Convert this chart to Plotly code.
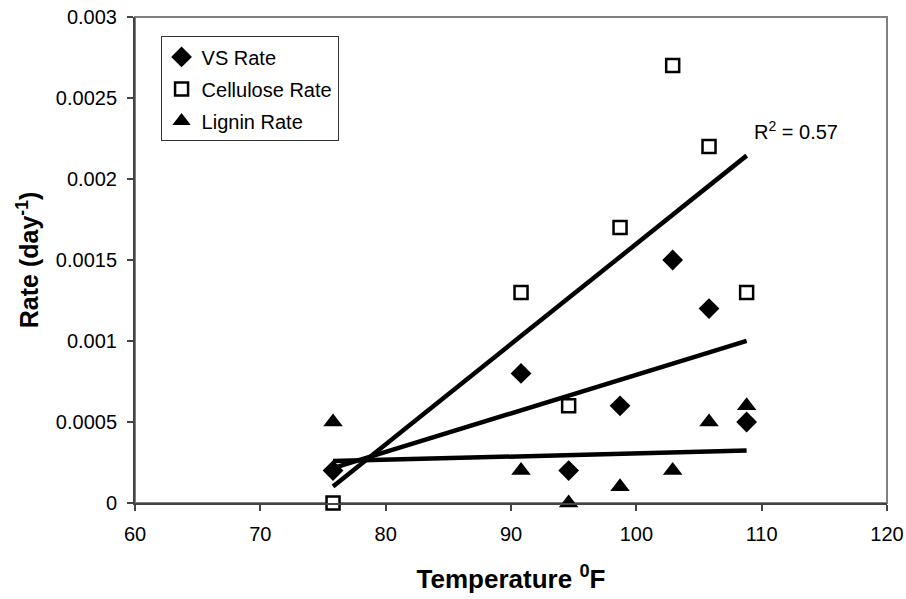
import numpy as np
import plotly.graph_objects as go

# Digester temperature (deg F) and first-order decay rates (1/day)
temperature = [75.8, 90.8, 94.6, 98.7, 102.9, 105.8, 108.8]
vs_rate = [0.0002, 0.0008, 0.0002, 0.0006, 0.0015, 0.0012, 0.0005]
cellulose_rate = [0.0, 0.0013, 0.0006, 0.0017, 0.0027, 0.0022, 0.0013]
lignin_rate = [0.0005, 0.0002, 0.0, 0.0001, 0.0002, 0.0005, 0.0006]

x_ticks = [60, 70, 80, 90, 100, 110, 120]
y_ticks = [0, 0.0005, 0.001, 0.0015, 0.002, 0.0025, 0.003]
y_tick_text = ["0", "0.0005", "0.001", "0.0015", "0.002", "0.0025", "0.003"]

FONT = "Liberation Sans, Arial, sans-serif"

fig = go.Figure()

series = [
    ("VS Rate", vs_rate, dict(symbol="diamond", size=16, color="black")),
    ("Cellulose Rate", cellulose_rate,
     dict(symbol="square", size=13, color="white", line=dict(color="black", width=2.5))),
    ("Lignin Rate", lignin_rate, dict(symbol="triangle-up", size=17, color="black")),
]

x = np.array(temperature)
xs = np.array([x.min(), x.max()])
fits = {}
for name, vals, _ in series:
    y = np.array(vals)
    slope, intercept = np.polyfit(x, y, 1)
    pred = slope * x + intercept
    r2 = 1 - np.sum((y - pred) ** 2) / np.sum((y - y.mean()) ** 2)
    fits[name] = (slope, intercept, r2)
    fig.add_trace(go.Scatter(
        x=xs, y=slope * xs + intercept, mode="lines",
        line=dict(color="black", width=4.5), showlegend=False, hoverinfo="skip",
    ))

for name, vals, marker in series:
    fig.add_trace(go.Scatter(
        x=temperature, y=vals, mode="markers", name=name, marker=marker,
        legendgroup=name, cliponaxis=False,
    ))

slope_c, int_c, r2_c = fits["Cellulose Rate"]
fig.add_annotation(
    x=109.2, y=0.0023, xref="x", yref="y",
    text=f"R<sup>2</sup> = {r2_c:.2f}", showarrow=False,
    xanchor="left", yanchor="middle",
    font=dict(family=FONT, size=20, color="black"),
)

# Outer plot frame (top/right edges lighter than the axis lines)
fig.add_shape(type="rect", xref="paper", yref="paper", x0=0, y0=0, x1=1, y1=1,
              line=dict(color="#808080", width=2), layer="below")

fig.update_layout(
    width=906, height=599,
    margin=dict(l=135, r=19, t=17, b=96),
    paper_bgcolor="white", plot_bgcolor="white",
    font=dict(family=FONT, color="black"),
    showlegend=True,
    legend=dict(
        x=0.034, y=0.96, xanchor="left", yanchor="top",
        bordercolor="#333333", borderwidth=1, bgcolor="white",
        font=dict(family=FONT, size=20, color="black"),
        itemwidth=30, tracegroupgap=3,
    ),
    xaxis=dict(
        range=[60, 120], tickvals=x_ticks, showgrid=False, zeroline=False,
        showline=True, linecolor="#444444", linewidth=2, automargin=False,
        ticks="outside", ticklen=6, tickwidth=1.5, tickcolor="#444444",
        ticklabelstandoff=6,
        tickfont=dict(family=FONT, size=20, color="black"),
        title=dict(text="<b>Temperature <sup>0</sup>F</b>", standoff=26,
                   font=dict(family=FONT, size=26, color="black")),
    ),
    yaxis=dict(
        range=[0, 0.003], tickvals=y_ticks, ticktext=y_tick_text,
        showgrid=False, zeroline=False, automargin=False,
        showline=True, linecolor="#444444", linewidth=2,
        ticks="outside", ticklen=6, tickwidth=1.5, tickcolor="#444444",
        ticklabelstandoff=6,
        tickfont=dict(family=FONT, size=20, color="black"),
        title=dict(text="<b>Rate (day<sup>-1</sup>)</b>", standoff=10,
                   font=dict(family=FONT, size=25, color="black")),
    ),
)

fig.write_html("out.html")
